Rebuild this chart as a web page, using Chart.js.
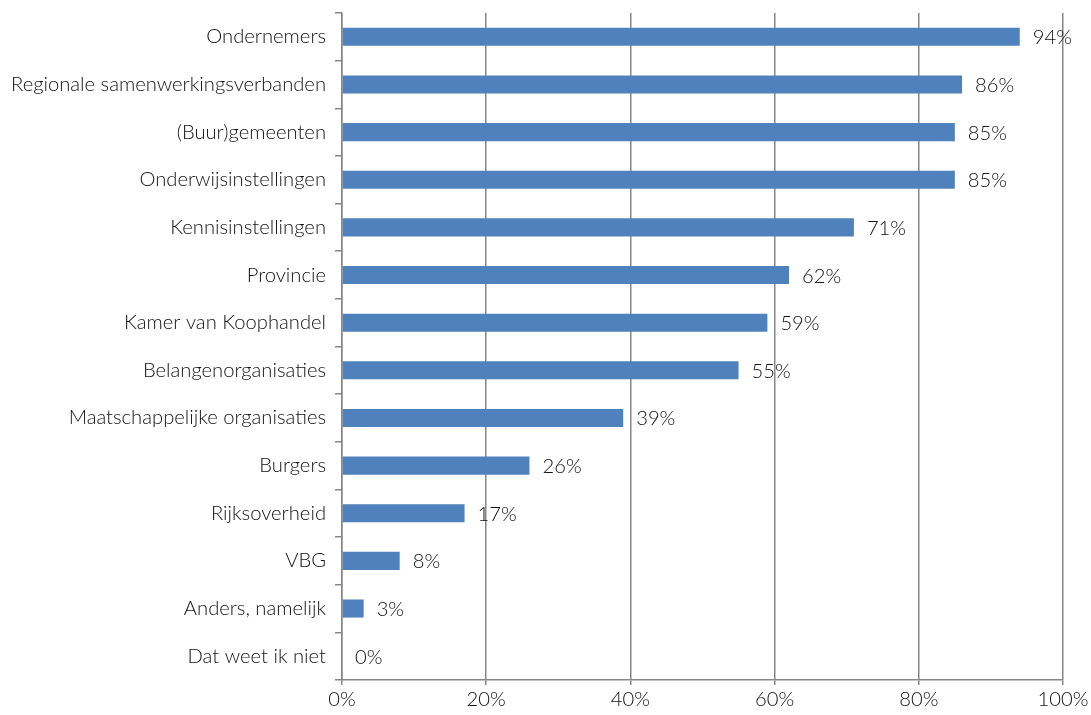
<!DOCTYPE html>
<html>
<head>
<meta charset="utf-8">
<script src="https://cdn.jsdelivr.net/npm/chart.js@4"></script>
<style>
html,body{margin:0;padding:0;background:#fff;}
#wrap{width:1091px;height:715px;position:relative;}
</style>
</head>
<body>
<div id="wrap"><canvas id="c" width="1091" height="715"></canvas></div>
<script>
const categories = [
  "Ondernemers",
  "Regionale samenwerkingsverbanden",
  "(Buur)gemeenten",
  "Onderwijsinstellingen",
  "Kennisinstellingen",
  "Provincie",
  "Kamer van Koophandel",
  "Belangenorganisaties",
  "Maatschappelijke organisaties",
  "Burgers",
  "Rijksoverheid",
  "VBG",
  "Anders, namelijk",
  "Dat weet ik niet"
];
const values = [94, 86, 85, 85, 71, 62, 59, 55, 39, 26, 17, 8, 3, 0];
const xTicks = [0, 20, 40, 60, 80, 100];

const FONT = "Lato, 'Noto Sans', sans-serif";
const FSIZE = 20.2;
const FWEIGHT = 300;
const TEXT = "#111111";
const GRID = "#868686";

const labelPlugin = {
  id: 'valueLabels',
  afterDatasetsDraw(chart) {
    const ctx = chart.ctx;
    const meta = chart.getDatasetMeta(0);
    ctx.save();
    ctx.font = FWEIGHT + " " + FSIZE + "px " + FONT;
    ctx.fillStyle = TEXT;
    ctx.textBaseline = 'middle';
    ctx.textAlign = 'left';
    meta.data.forEach((bar, i) => {
      ctx.fillText(values[i] + '%', bar.x + 13, bar.y + 1);
    });
    ctx.restore();
  }
};

new Chart(document.getElementById('c'), {
  type: 'bar',
  data: {
    labels: categories,
    datasets: [{
      data: values,
      backgroundColor: '#4F81BD',
      borderWidth: 0,
      barPercentage: 0.76,
      categoryPercentage: 0.5
    }]
  },
  options: {
    indexAxis: 'y',
    responsive: false,
    devicePixelRatio: 1,
    animation: false,
    layout: { padding: { top: 13, right: 28, left: 0, bottom: 0 } },
    plugins: { legend: { display: false }, tooltip: { enabled: false } },
    scales: {
      x: {
        min: 0, max: 100,
        afterBuildTicks(scale) { scale.ticks = xTicks.map(v => ({ value: v })); },
        afterFit(scale) { scale.height = 35; scale.paddingRight = 0; scale.paddingLeft = 0; },
        ticks: {
          font: { family: FONT, size: FSIZE, weight: FWEIGHT },
          color: TEXT,
          padding: 2,
          callback: v => v + '%'
        },
        grid: { color: GRID, lineWidth: 1.5, tickLength: 5, drawTicks: true },
        border: { color: GRID, width: 1.5 }
      },
      y: {
        afterFit(scale) { scale.width = 342; scale.paddingTop = 0; scale.paddingBottom = 0; },
        ticks: {
          font: { family: FONT, size: FSIZE, weight: FWEIGHT },
          color: TEXT,
          padding: 9
        },
        grid: { drawOnChartArea: false, color: GRID, lineWidth: 1.5, tickLength: 7, offset: true },
        border: { color: GRID, width: 1.5 }
      }
    }
  },
  plugins: [labelPlugin]
});
</script>
</body>
</html>
